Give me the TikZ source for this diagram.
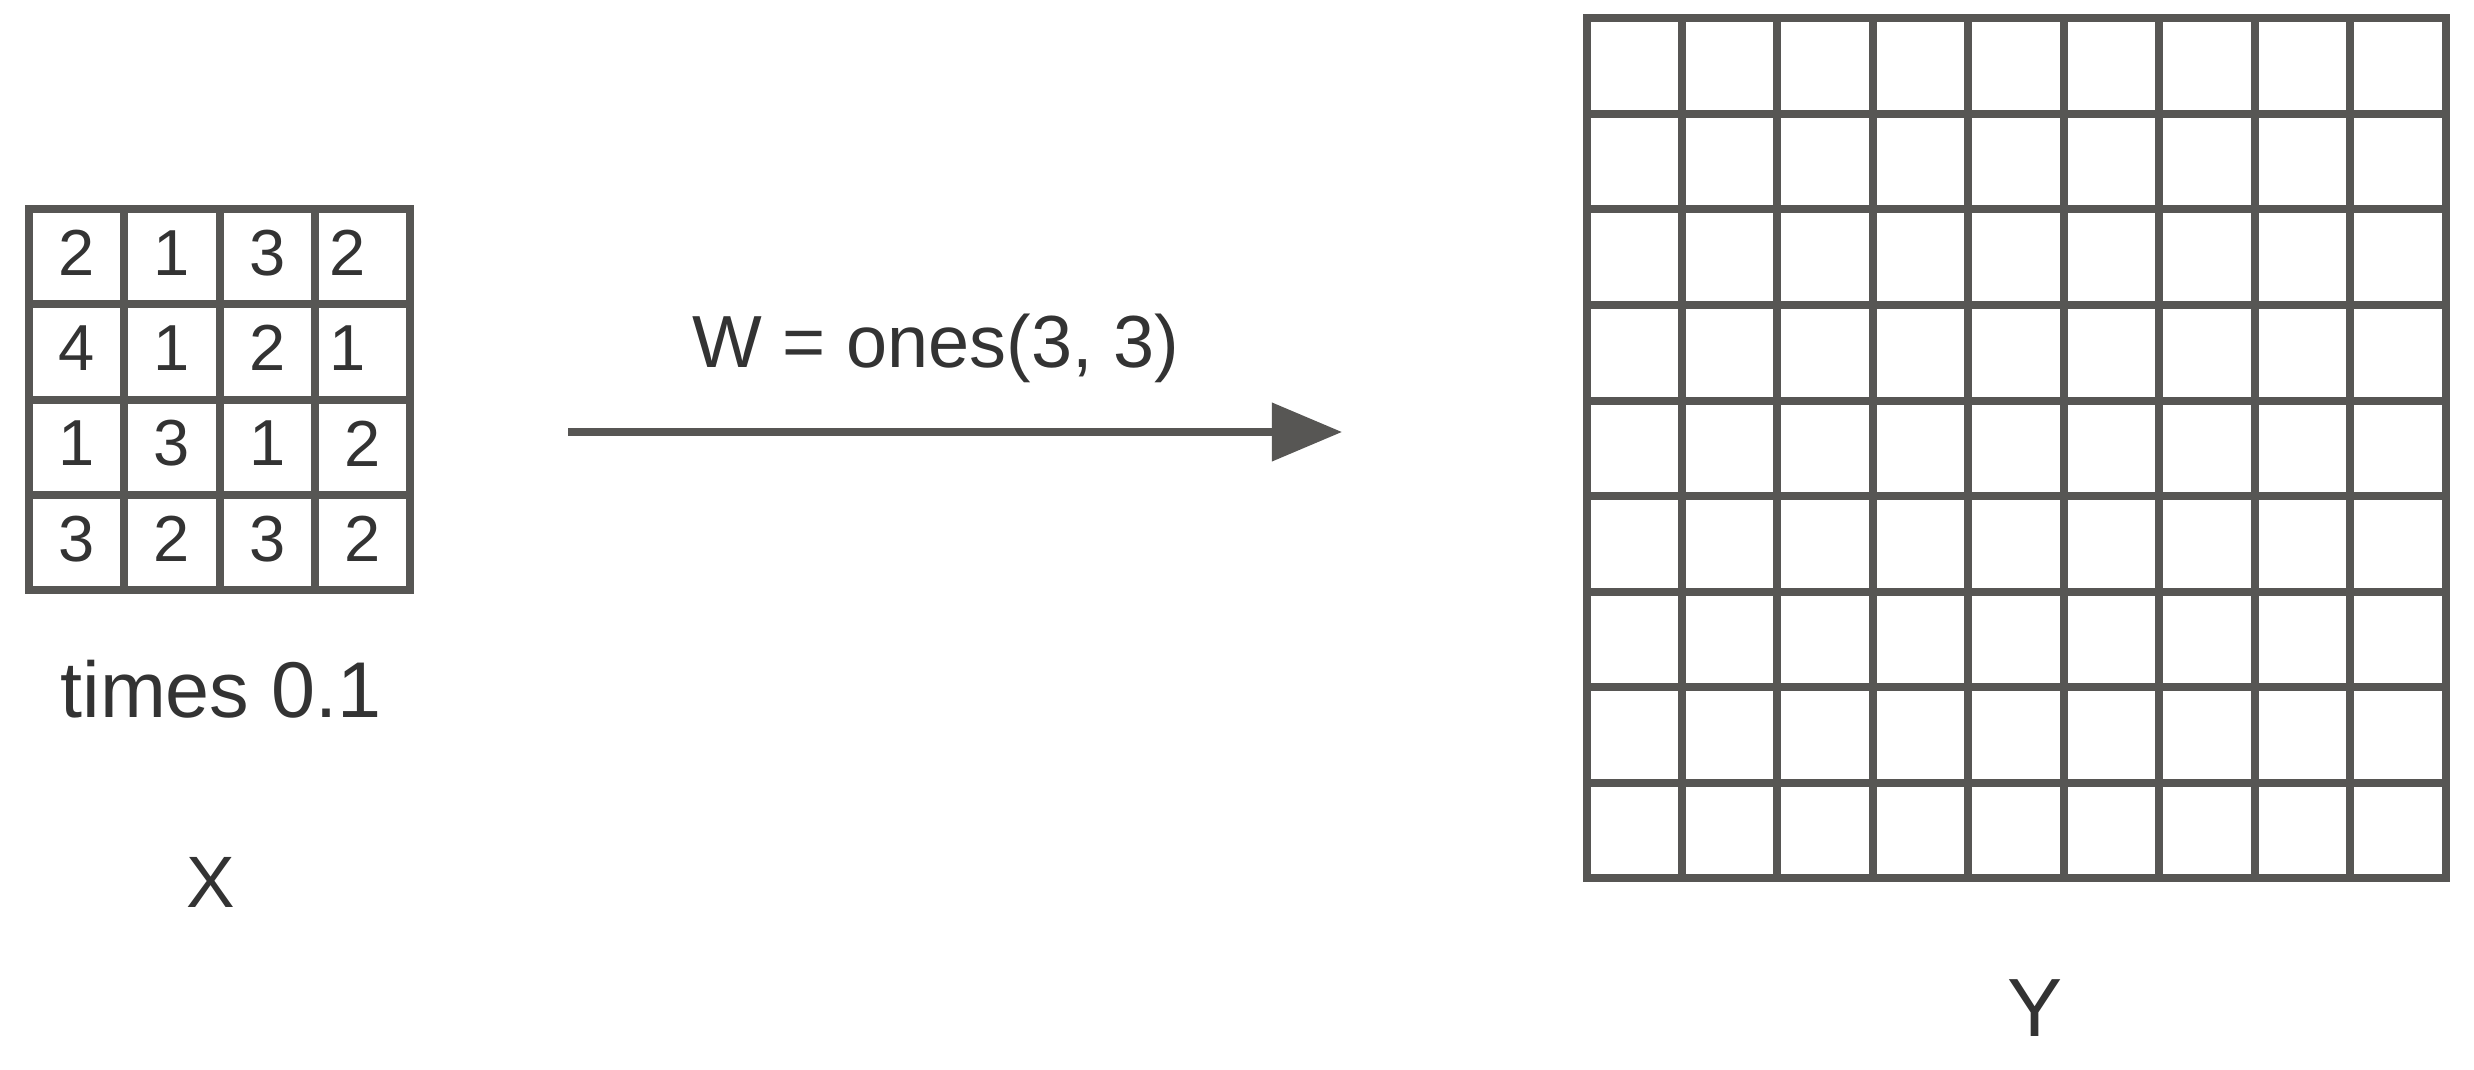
\documentclass[tikz,border=0pt]{standalone}
\usepackage{fontspec}
\setmainfont{Liberation Sans}
\usepackage{xcolor}
\usetikzlibrary{
    arrows.meta,
    positioning
}
\definecolor{gridgray}{RGB}{87,86,84}
\definecolor{inkgray}{RGB}{51,51,51}
\tikzset{
    gridline/.style={draw=gridgray, line width=0.08cm},
    cell/.style={inner sep=0pt, text=inkgray, font=\fontsize{18.5}{20}\selectfont},
    caption/.style={inner sep=0pt, anchor=base, text=inkgray},
    flow/.style={draw=gridgray, line width=0.073cm, -{Triangle[length=0.70cm, width=0.57cm]}}
}

\begin{document}
\begin{tikzpicture}[x=0.01cm, y=-0.01cm]
                        \useasboundingbox (0, 0) rectangle (2474, 1070);
                        % input matrix X
                        \begin{scope}[shift={(29, 209)}, x=0.9525cm, y=-0.9525cm]
                        \draw[gridline]
                        (0, 0) rectangle (4, 4)
                        (0, 1) -- (4, 1)
                        (0, 2) -- (4, 2)
                        (0, 3) -- (4, 3)
                        (1, 0) -- (1, 4)
                        (2, 0) -- (2, 4)
                        (3, 0) -- (3, 4);
                        \node[cell] (x11) at (0.5, 0.46) {2};
                        \node[cell] (x12) at (1.5, 0.46) {1};
                        \node[cell] (x13) at (2.5, 0.46) {3};
                        \node[cell] (x14) at (3.34, 0.46) {2};
                        \node[cell] (x21) at (0.5, 1.46) {4};
                        \node[cell] (x22) at (1.5, 1.46) {1};
                        \node[cell] (x23) at (2.5, 1.46) {2};
                        \node[cell] (x24) at (3.34, 1.46) {1};
                        \node[cell] (x31) at (0.5, 2.46) {1};
                        \node[cell] (x32) at (1.5, 2.46) {3};
                        \node[cell] (x33) at (2.5, 2.46) {1};
                        \node[cell] (x34) at (3.5, 2.46) {2};
                        \node[cell] (x41) at (0.5, 3.46) {3};
                        \node[cell] (x42) at (1.5, 3.46) {2};
                        \node[cell] (x43) at (2.5, 3.46) {3};
                        \node[cell] (x44) at (3.5, 3.46) {2};
                        \end{scope}
                        \node[caption, font=\fontsize{22.5}{24}\selectfont] (times) at (221, 718) {times 0.1};
                        \node[caption, font=\fontsize{20.7}{22}\selectfont] (xname) at (211, 907) {X};
                        % operation
                        \coordinate (arrowstart) at (568, 432);
                        \coordinate (arrowend) at (1342, 432);
                        \draw[flow] (arrowstart) -- (arrowend);
                        \node[caption, font=\fontsize{21}{23}\selectfont] (wname) at (936, 367) {W = ones(3, 3)};
                        % output matrix Y
                        \begin{scope}[shift={(1586.5, 18.3)}, x=0.954cm, y=-0.955cm]
                        \draw[gridline]
                        (0, 0) rectangle (9, 9)
                        (0, 1) -- (9, 1)
                        (0, 2) -- (9, 2)
                        (0, 3) -- (9, 3)
                        (0, 4) -- (9, 4)
                        (0, 5) -- (9, 5)
                        (0, 6) -- (9, 6)
                        (0, 7) -- (9, 7)
                        (0, 8) -- (9, 8)
                        (1, 0) -- (1, 9)
                        (2, 0) -- (2, 9)
                        (3, 0) -- (3, 9)
                        (4, 0) -- (4, 9)
                        (5, 0) -- (5, 9)
                        (6, 0) -- (6, 9)
                        (7, 0) -- (7, 9)
                        (8, 0) -- (8, 9);
                        \end{scope}
                        \node[caption, font=\fontsize{23.5}{25}\selectfont] (yname) at (2035, 1036) {Y};
                    \end{tikzpicture}
\end{document}
